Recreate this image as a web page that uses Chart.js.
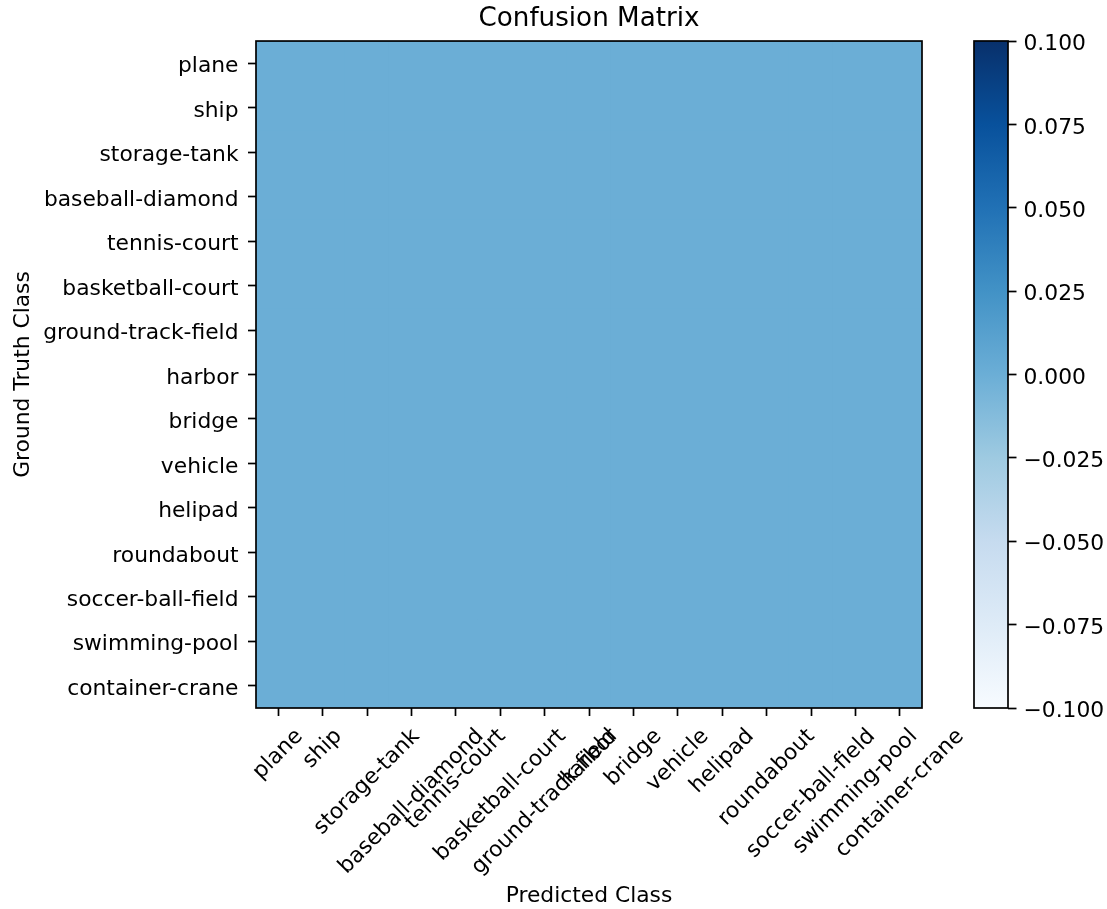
<!DOCTYPE html>
<html><head><meta charset="utf-8">
<script src="https://cdn.jsdelivr.net/npm/chart.js@4"></script>
<style>
html,body{margin:0;padding:0;background:#fff;overflow:hidden}
#wrap{position:relative;width:1107px;height:909px}
canvas{position:absolute;top:0}
#main{left:0}
#cbar{left:922px}
</style></head><body>
<div id="wrap"><canvas id="main" width="1107" height="909"></canvas><canvas id="cbar" width="185" height="909"></canvas></div>
<script>
// ---------- data ----------
const predictedClasses = ['plane','ship','storage-tank','baseball-diamond','tennis-court','basketball-court','ground-track-field','harbor','bridge','vehicle','helipad','roundabout','soccer-ball-field','swimming-pool','container-crane'];
const groundTruthClasses = ['plane','ship','storage-tank','baseball-diamond','tennis-court','basketball-court','ground-track-field','harbor','bridge','vehicle','helipad','roundabout','soccer-ball-field','swimming-pool','container-crane'];
const confusion = [
  [0,0,0,0,0,0,0,0,0,0,0,0,0,0,0],
  [0,0,0,0,0,0,0,0,0,0,0,0,0,0,0],
  [0,0,0,0,0,0,0,0,0,0,0,0,0,0,0],
  [0,0,0,0,0,0,0,0,0,0,0,0,0,0,0],
  [0,0,0,0,0,0,0,0,0,0,0,0,0,0,0],
  [0,0,0,0,0,0,0,0,0,0,0,0,0,0,0],
  [0,0,0,0,0,0,0,0,0,0,0,0,0,0,0],
  [0,0,0,0,0,0,0,0,0,0,0,0,0,0,0],
  [0,0,0,0,0,0,0,0,0,0,0,0,0,0,0],
  [0,0,0,0,0,0,0,0,0,0,0,0,0,0,0],
  [0,0,0,0,0,0,0,0,0,0,0,0,0,0,0],
  [0,0,0,0,0,0,0,0,0,0,0,0,0,0,0],
  [0,0,0,0,0,0,0,0,0,0,0,0,0,0,0],
  [0,0,0,0,0,0,0,0,0,0,0,0,0,0,0],
  [0,0,0,0,0,0,0,0,0,0,0,0,0,0,0]
];
const colorRange = [-0.1, 0.1];
const colorbarTicks = [-0.1, -0.075, -0.05, -0.025, 0, 0.025, 0.05, 0.075, 0.1];

// ---------- style ----------
const FS = 21.8, TITLE_FS = 26.2, LW = 1.7;
const BLUES = ['#f7fbff','#deebf7','#c6dbef','#9ecae1','#6baed6','#4292c6','#2171b5','#08519c','#08306b'];
function hex2rgb(h){return [1,3,5].map(i=>parseInt(h.slice(i,i+2),16));}
function blues(t){
  t = Math.max(0, Math.min(1, t));
  const p = t*(BLUES.length-1), i = Math.min(Math.floor(p), BLUES.length-2), f = p - i;
  const a = hex2rgb(BLUES[i]), b = hex2rgb(BLUES[i+1]);
  return 'rgb(' + a.map((v,k)=>Math.round(v + (b[k]-v)*f)).join(',') + ')';
}
const norm = v => (v - colorRange[0]) / (colorRange[1] - colorRange[0]);

Chart.defaults.font.family = '"DejaVu Sans", sans-serif';
Chart.defaults.color = '#000';
Chart.defaults.animation = false;

// ---------- main heatmap ----------
const datasets = groundTruthClasses.map((name, r) => ({
  label: name,
  data: confusion[r].map((v, c) => ({x: predictedClasses[c], y: [r - 0.5, r + 0.5], v: v})),
  backgroundColor: ctx => blues(norm(ctx.raw ? ctx.raw.v : 0)),
  grouped: false,
  barPercentage: 1,
  categoryPercentage: 1,
  borderWidth: 0,
  inflateAmount: 0.6
}));

const mainPlugin = {
  id: 'mainPlugin',
  afterLayout(chart) {
    const tb = chart.titleBlock, ca = chart.chartArea;
    if (tb) { tb.left = ca.left; tb.right = ca.right; tb.width = ca.right - ca.left; }
  },
  afterDatasetsDraw(chart) {
    const {ctx, chartArea: ca} = chart;
    ctx.save();
    ctx.strokeStyle = '#000'; ctx.lineWidth = LW;
    ctx.strokeRect(ca.left, ca.top, ca.right - ca.left, ca.bottom - ca.top);
    ctx.restore();
  },
  afterDraw(chart) {
    const {ctx, chartArea: ca} = chart;
    const xs = chart.scales.x;
    ctx.save();
    ctx.font = FS + 'px "DejaVu Sans"';
    ctx.fillStyle = '#000';
    ctx.textAlign = 'center'; ctx.textBaseline = 'middle';
    const h = 1.164 * FS;
    predictedClasses.forEach((lab, i) => {
      const x = xs.getPixelForTick(i);
      const w = ctx.measureText(lab).width;
      const H = (w + h) / Math.SQRT2;
      const cy = ca.bottom + 8 + 8 + H / 2;
      ctx.save();
      ctx.translate(x, cy);
      ctx.rotate(-Math.PI / 4);
      ctx.fillText(lab, 0, 0);
      ctx.restore();
    });
    ctx.restore();
  }
};

new Chart(document.getElementById('main'), {
  type: 'bar',
  data: {labels: predictedClasses, datasets: datasets},
  plugins: [mainPlugin],
  options: {
    responsive: false,
    devicePixelRatio: 1,
    layout: {padding: {left: 0, right: 185, top: 0, bottom: 0}},
    plugins: {
      legend: {display: false},
      tooltip: {enabled: false},
      title: {display: true, text: 'Confusion Matrix', color: '#000',
              font: {size: TITLE_FS, weight: 'normal'}, padding: {top: 3.5, bottom: 6.1}}
    },
    scales: {
      x: {
        type: 'category',
        offset: true,
        grid: {offset: false, drawOnChartArea: false, drawTicks: true, tickLength: 8, tickColor: '#000', tickWidth: LW},
        border: {display: false},
        ticks: {display: false, autoSkip: false},
        title: {display: true, text: 'Predicted Class', color: '#000', font: {size: FS}, padding: {top: 0, bottom: 0}},
        afterFit(s) { s.height = 201; }
      },
      y: {
        type: 'linear',
        min: -0.5, max: 14.5, reverse: true,
        afterBuildTicks(s) { s.ticks = groundTruthClasses.map((_, i) => ({value: i})); },
        grid: {drawOnChartArea: false, drawTicks: true, tickLength: 8, tickColor: '#000', tickWidth: LW},
        border: {display: false},
        ticks: {autoSkip: false, color: '#000', font: {size: FS}, padding: 9.5, labelOffset: 3.5,
                callback: v => groundTruthClasses[v]},
        title: {display: true, text: 'Ground Truth Class', color: '#000', font: {size: FS}, padding: {top: 10.2, bottom: 0}},
        afterFit(s) { s.width = 256; }
      }
    }
  }
});

// ---------- colorbar ----------
const cbarPlugin = {
  id: 'cbarPlugin',
  afterDatasetsDraw(chart) {
    const {ctx, chartArea: ca} = chart;
    ctx.save();
    ctx.strokeStyle = '#000'; ctx.lineWidth = LW;
    ctx.strokeRect(ca.left, ca.top, ca.right - ca.left, ca.bottom - ca.top);
    ctx.restore();
  }
};
const fmt = v => (v < -1e-9 ? '\u2212' : '') + Math.abs(v).toFixed(3);

new Chart(document.getElementById('cbar'), {
  type: 'bar',
  data: {
    labels: [''],
    datasets: [{
      data: [{x: '', y: colorRange}],
      backgroundColor: ctx => {
        const ca = ctx.chart.chartArea;
        if (!ca) return blues(0.5);
        const g = ctx.chart.ctx.createLinearGradient(0, ca.bottom, 0, ca.top);
        BLUES.forEach((c, i) => g.addColorStop(i / (BLUES.length - 1), c));
        return g;
      },
      barPercentage: 1, categoryPercentage: 1, borderWidth: 0
    }]
  },
  plugins: [cbarPlugin],
  options: {
    responsive: false,
    devicePixelRatio: 1,
    layout: {padding: {left: 52, right: 0, top: 41, bottom: 201}},
    plugins: {legend: {display: false}, tooltip: {enabled: false}, title: {display: false}},
    scales: {
      x: {type: 'category', display: false},
      y: {
        type: 'linear', position: 'right',
        min: colorRange[0], max: colorRange[1],
        afterBuildTicks(s) { s.ticks = colorbarTicks.map(v => ({value: v})); },
        grid: {drawOnChartArea: false, drawTicks: true, tickLength: 8.5, tickColor: '#000', tickWidth: LW},
        border: {display: false},
        ticks: {autoSkip: false, color: '#000', font: {size: FS}, padding: 7, labelOffset: 3.5, callback: v => fmt(v)},
        afterFit(s) { s.width = 99; }
      }
    }
  }
});
</script>
</body></html>
